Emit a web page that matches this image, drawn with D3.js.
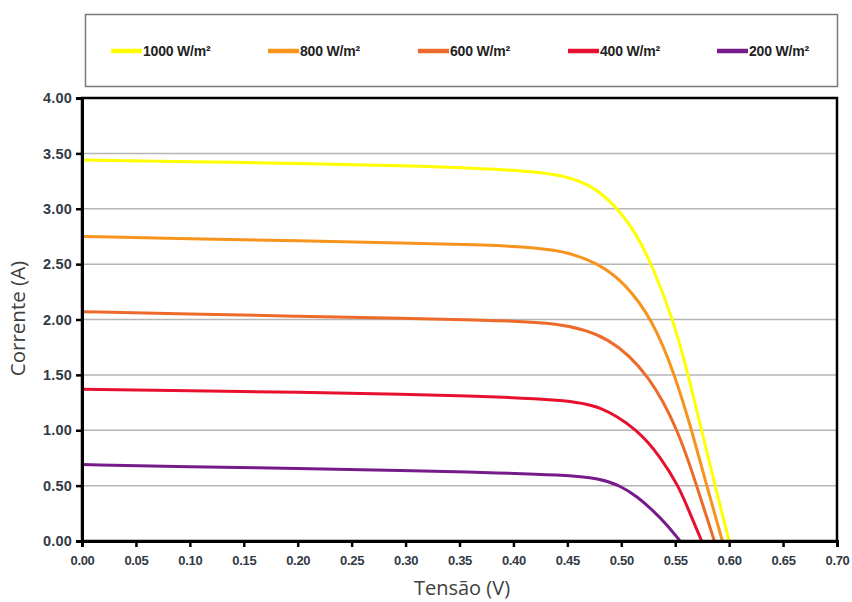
<!DOCTYPE html>
<html><head><meta charset="utf-8">
<script src="https://cdn.jsdelivr.net/npm/d3@7"></script>
<style>
body{margin:0;background:#fff;}
svg{display:block;}
</style></head>
<body>
<svg id="chart" width="852" height="602"></svg>
<script>
// ---- data ----
const seriesNames = ["1000 W/m²", "800 W/m²", "600 W/m²", "400 W/m²", "200 W/m²"];
const seriesColors = ["#ffff00", "#f7941d", "#ee6a2a", "#e8102f", "#771a8a"];
const curve1000 = [[0,3.44],[0.1,3.425],[0.2,3.41],[0.3,3.39],[0.37,3.365],[0.42,3.335],[0.4432,3.305],[0.4726,3.22],[0.4972,3.0],[0.5136,2.778],[0.5282,2.5],[0.5482,2.0],[0.5621,1.5],[0.5745,1.0],[0.5869,0.5],[0.600,0]];
const curve800 = [[0,2.75],[0.1,2.73],[0.2,2.71],[0.3,2.69],[0.37,2.675],[0.4432,2.643],[0.4803,2.5],[0.5034,2.327],[0.529,2.0],[0.5498,1.5],[0.5653,1.0],[0.5792,0.5],[0.5937,0]];
const curve600 = [[0,2.07],[0.1,2.05],[0.2,2.03],[0.3,2.01],[0.37,1.995],[0.4432,1.975],[0.4895,1.845],[0.526,1.5],[0.5529,1.0],[0.5699,0.5],[0.5863,0]];
const curve400 = [[0,1.37],[0.1,1.355],[0.2,1.345],[0.3,1.325],[0.37,1.309],[0.447,1.273],[0.480,1.228],[0.516,1.0],[0.536,0.761],[0.553,0.5],[0.5637,0.25],[0.5745,0]];
const curve200 = [[0,0.69],[0.1,0.67],[0.2,0.655],[0.3,0.635],[0.37,0.62],[0.447,0.596],[0.480,0.566],[0.499,0.50],[0.515,0.40],[0.530,0.27],[0.543,0.14],[0.5545,0]];
const curves = [curve1000, curve800, curve600, curve400, curve200];
const xTicks = [0,0.05,0.10,0.15,0.20,0.25,0.30,0.35,0.40,0.45,0.50,0.55,0.60,0.65,0.70];
const yTicks = [0,0.5,1.0,1.5,2.0,2.5,3.0,3.5,4.0];
const xTitle = "Tensão (V)";
const yTitle = "Corrente (A)";

// ---- layout ----
const svg = d3.select("#chart");
const L = 82, R = 837, T = 98, B = 541;
const x = d3.scaleLinear().domain([0, 0.70]).range([L, R]);
const y = d3.scaleLinear().domain([0, 4.0]).range([B, T]);

// legend box
svg.append("rect").attr("x", 85.5).attr("y", 14.5).attr("width", 752).attr("height", 72)
  .attr("fill", "#fff").attr("stroke", "#7a7a7a").attr("stroke-width", 1.5);
const legendX = [111, 268, 418, 568, 717];
const lg = svg.append("g");
seriesNames.forEach((n, i) => {
  lg.append("line").attr("x1", legendX[i]).attr("x2", legendX[i] + 31).attr("y1", 51).attr("y2", 51)
    .attr("stroke", seriesColors[i]).attr("stroke-width", 4.5);
  lg.append("text").attr("x", legendX[i] + 32).attr("y", 56).text(n)
    .attr("font-family", "Liberation Sans, Arial, sans-serif").attr("font-weight", "bold")
    .attr("font-size", 14).attr("fill", "#222").attr("letter-spacing", -0.2);
});

// gridlines
svg.append("g").selectAll("line").data(yTicks.filter(d => d > 0 && d < 4)).join("line")
  .attr("x1", L).attr("x2", R).attr("y1", d => y(d)).attr("y2", d => y(d))
  .attr("stroke", "#b5b5b5").attr("stroke-width", 1.5);

// curves
const line = d3.line().x(d => x(d[0])).y(d => y(d[1])).curve(d3.curveBasis);
svg.append("g").selectAll("path").data(curves).join("path")
  .attr("d", line).attr("fill", "none")
  .attr("stroke", (d, i) => seriesColors[i]).attr("stroke-width", 3)
  .attr("stroke-linejoin", "round");

// frame
svg.append("rect").attr("x", L).attr("y", T).attr("width", R - L).attr("height", B - T)
  .attr("fill", "none").attr("stroke", "#000").attr("stroke-width", 2.5);

// axes
const fmt = d3.format(".2f");
const xAxis = svg.append("g").attr("transform", `translate(0,${B})`)
  .call(d3.axisBottom(x).tickValues(xTicks).tickFormat(fmt).tickSize(6).tickPadding(9));
const yAxis = svg.append("g").attr("transform", `translate(${L},0)`)
  .call(d3.axisLeft(y).tickValues(yTicks).tickFormat(fmt).tickSize(6).tickPadding(4));
[xAxis, yAxis].forEach(a => {
  a.select(".domain").attr("stroke", "#000").attr("stroke-width", 3);
  a.selectAll(".tick line").attr("stroke", "#000").attr("stroke-width", 2.5);
  a.selectAll("text").attr("font-family", "Liberation Sans, Arial, sans-serif")
    .attr("font-weight", "bold").attr("fill", "#333a44");
});
xAxis.selectAll("text").attr("font-size", 13).attr("letter-spacing", -0.3);
yAxis.selectAll("text").attr("font-size", 14.5).attr("letter-spacing", 0.2);

// titles
svg.append("text").attr("x", 462).attr("y", 595).attr("text-anchor", "middle")
  .attr("font-family", "Open Sans, sans-serif").attr("font-size", 20).attr("fill", "#404040")
  .text(xTitle);
svg.append("text").attr("transform", `translate(25,${(T + B) / 2 - 1}) rotate(-90)`)
  .attr("text-anchor", "middle")
  .attr("font-family", "Open Sans, sans-serif").attr("font-size", 20.5).attr("fill", "#404040")
  .text(yTitle);
</script>
</body></html>
